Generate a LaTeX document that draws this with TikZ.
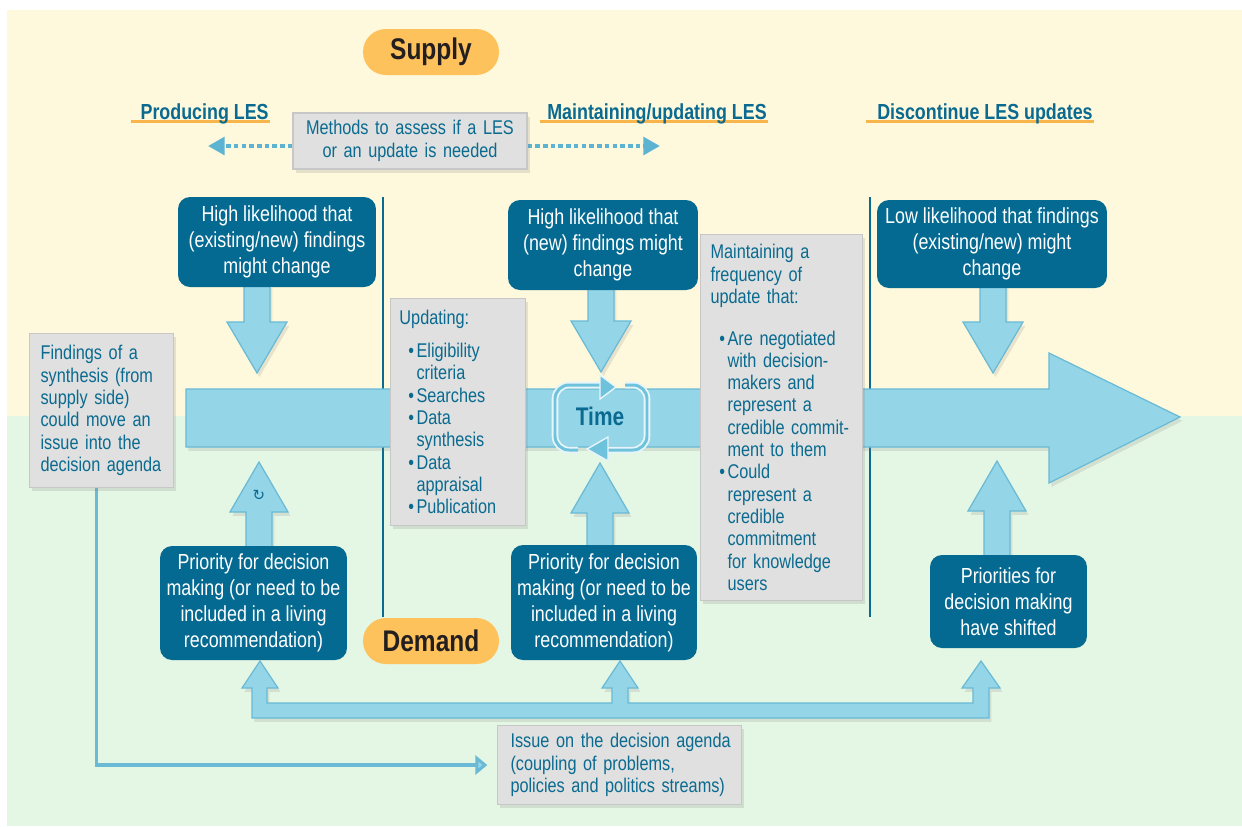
\documentclass[tikz,border=0pt]{standalone}
\usepackage{fontspec}
\setmainfont{Liberation Sans}[FakeStretch=0.82]
\newfontfamily\glyphfont{DejaVu Sans}
\usetikzlibrary{arrows.meta,shadows}

\definecolor{bgyellow}{HTML}{FEF8DC}
\definecolor{bggreen}{HTML}{E4F6E4}
\definecolor{inkblue}{HTML}{0A6A90}
\definecolor{boxblue}{HTML}{046A91}
\definecolor{arrowfill}{HTML}{94D5E8}
\definecolor{arrowedge}{HTML}{6ABAD6}
\definecolor{dotblue}{HTML}{5DB4D2}
\definecolor{greyfill}{HTML}{DFE0DF}
\definecolor{greyedge}{HTML}{C6C7C6}
\definecolor{pillorange}{HTML}{FDC25C}
\definecolor{lineorange}{HTML}{F8B54C}
\definecolor{labelink}{HTML}{231F20}
\definecolor{ringfill}{HTML}{6FC2DC}
\definecolor{ringedge}{HTML}{E6F5FA}

\pgfdeclarelayer{backdrop}
\pgfdeclarelayer{links}
\pgfsetlayers{backdrop,links,main}

% left margin inside a grey box (every line is its own paragraph), bullets and hanging indent
\newcommand\lm[1]{\leftskip=#1\relax}
\newcommand\bul{\makebox[9.7pt][r]{\textbullet\hspace{1.4pt}}}
\newcommand\ind{\hspace*{9.7pt}}

% fat block arrows: x position, start, tip
\newcommand\fatdown[3]{%
  \draw[blockarrow] ({#1-13},{#2}) -- ({#1+13},{#2}) -- ({#1+13},{#3-51})
    -- ({#1+30},{#3-51}) -- ({#1},{#3}) -- ({#1-30},{#3-51})
    -- ({#1-13},{#3-51}) -- cycle;}
\newcommand\fatup[3]{%
  \draw[blockarrow] ({#1-13},{#2}) -- ({#1-13},{#3+50}) -- ({#1-29},{#3+50})
    -- ({#1},{#3}) -- ({#1+29},{#3+50}) -- ({#1+13},{#3+50})
    -- ({#1+13},{#2}) -- cycle;}

\tikzset{
  darkbox/.style={rounded corners=6.8pt, fill=boxblue, text=white, align=center,
    font=\fontsize{12.4}{14.8}\selectfont, inner sep=0pt},
  greybox/.style={fill=greyfill, draw=greyedge, line width=0.6pt, text=inkblue,
    align=left, font=\fontsize{11.3}{12.7}\selectfont, inner sep=0pt,
    drop shadow={shadow xshift=1.6pt, shadow yshift=-2pt, opacity=0.2}},
  pill/.style={fill=pillorange, rounded corners=13pt, minimum width=2.72cm,
    minimum height=0.92cm, text=labelink, inner sep=0pt,
    font=\bfseries\fontsize{17}{20}\selectfont},
  header/.style={text=inkblue, inner sep=0pt,
    font=\bfseries\fontsize{12.4}{14}\selectfont},
  uline/.style={lineorange, line width=1.7pt},
  blockarrow/.style={fill=arrowfill, draw=arrowedge, line width=0.7pt,
    drop shadow={shadow xshift=1.4pt, shadow yshift=-2.2pt, opacity=0.18}},
  dotarrow/.style={dotblue, line width=2.6pt, dash pattern=on 2.6pt off 1.8pt,
    -{Triangle[length=9.5pt,width=10pt]}},
  divider/.style={inkblue, line width=1.2pt},
  feed/.style={draw=arrowedge, line width=1.8pt, shorten >=5.5pt,
    -{Triangle[length=6.8pt,width=10.8pt,fill=arrowfill]}},
  ringband/.style={draw=ringedge, line width=3.8pt, rounded corners=8pt},
  ringcore/.style={draw=ringfill, line width=1.7pt, rounded corners=8pt},
  ringhead/.style={fill=ringfill, draw=ringedge, line width=0.8pt},
}

\begin{document}
\begin{tikzpicture}[x=0.02cm, y=-0.02cm]
\useasboundingbox (0,0) rectangle (1242,826);

\begin{pgfonlayer}{backdrop}
  \fill[white] (0,0) rectangle (1242,826);
  \fill[bgyellow] (7,10) rectangle (1242,416);
  \fill[bggreen] (7,416) rectangle (1242,826);
\end{pgfonlayer}

% side labels
\node[pill] (sup) at (431,52) {Supply};
\node[pill] (dem) at (431,641) {Demand};

% phase headings
\node[header, anchor=base east] (hp) at (269,119) {Producing LES};
\node[header, anchor=base east] (hm) at (767,119) {Maintaining/updating LES};
\node[header, anchor=base east] (hd) at (1093,119) {Discontinue LES updates};

% assessment methods
\node[greybox, align=center, text width=4.68cm, minimum height=1.12cm,
  font=\fontsize{11.3}{13.1}\selectfont] (mb) at (410,141)
  {Methods to assess if a LES\\or an update is needed};
\coordinate (lt) at (208,146);
\coordinate (rt) at (660,146);

% supply side boxes
\node[darkbox, minimum width=3.96cm, minimum height=1.8cm] (d1) at (277,242)
  {High likelihood that\\(existing/new) findings\\might change};
\node[darkbox, minimum width=3.8cm, minimum height=1.8cm] (d2) at (603,245)
  {High likelihood that\\(new) findings might\\change};
\node[darkbox, minimum width=4.6cm, minimum height=1.76cm] (d3) at (992,244)
  {Low likelihood that findings\\(existing/new) might\\change};

% demand side boxes
\node[darkbox, minimum width=3.74cm, minimum height=2.28cm] (d4) at (253.5,603)
  {Priority for decision\\making (or need to be\\included in a living\\recommendation)};
\node[darkbox, minimum width=3.72cm, minimum height=2.3cm] (d5) at (604,602.5)
  {Priority for decision\\making (or need to be\\included in a living\\recommendation)};
\node[darkbox, minimum width=3.14cm, minimum height=1.86cm] (d6) at (1008.5,601.5)
  {Priorities for\\decision making\\have shifted};

% notes
\node[greybox, anchor=north west, text width=2.88cm, minimum height=3.08cm] (fb)
  at (29,333)
  {\lm{6.3pt}Findings of a\\synthesis (from\\supply side)\\could move an\\issue into the\\decision agenda\par};
\node[greybox, anchor=north west, text width=2.7cm, minimum height=4.54cm] (ub)
  at (390,298)
  {\lm{5.1pt}Updating:\\[6.1pt]
   \bul Eligibility\\ \ind criteria\\
   \bul Searches\\
   \bul Data\\ \ind synthesis\\
   \bul Data\\ \ind appraisal\\
   \bul Publication\par};
\node[greybox, anchor=north west, text width=3.24cm, minimum height=7.32cm] (fq)
  at (700,234)
  {\lm{5.7pt}Maintaining a\\frequency of\\update that:\\[11pt]
   \bul Are negotiated\\ \ind with decision-\\ \ind makers and\\ \ind represent a\\
   \ind credible commit-\\ \ind ment to them\\
   \bul Could\\ \ind represent a\\ \ind credible\\ \ind commitment\\
   \ind for knowledge\\ \ind users\par};
\node[greybox, anchor=north west, text width=4.88cm, minimum height=1.58cm,
  font=\fontsize{11.3}{12.8}\selectfont] (ib) at (497,725)
  {\lm{7.4pt}Issue on the decision agenda\\(coupling of problems,\\policies and politics streams)\par};

% time at the centre of the timeline
\node[text=inkblue, font=\bfseries\fontsize{14.5}{16}\selectfont, inner sep=0pt]
  (tm) at (600,416) {Time};
\draw[ringband] (578,450) -- (555,450) -- (555,385) -- (603,385);
\draw[ringcore] (578,450) -- (555,450) -- (555,385) -- (603,385);
\draw[ringband] (625,385) -- (647,385) -- (647,450) -- (607,450);
\draw[ringcore] (625,385) -- (647,385) -- (647,450) -- (607,450);
\filldraw[ringhead] (600,375) -- (616,387) -- (600,399) -- cycle;
\filldraw[ringhead] (608,437) -- (587,449) -- (608,461) -- cycle;

\node[text=inkblue, font=\glyphfont\fontsize{8.5}{9}\selectfont, inner sep=0pt]
  (rot) at (259,495) {↻};

\begin{pgfonlayer}{links}
  \draw[uline] ([xshift=-5.5pt,yshift=-1.6pt]hp.base west) -- ([xshift=0.6pt,yshift=-1.6pt]hp.base east);
  \draw[uline] ([xshift=-4pt,yshift=-1.6pt]hm.base west) -- ([xshift=0.6pt,yshift=-1.6pt]hm.base east);
  \draw[uline] ([xshift=-6pt,yshift=-1.6pt]hd.base west) -- ([xshift=0.6pt,yshift=-1.6pt]hd.base east);

  \draw[dotarrow] (mb.west |- lt) -- (lt);
  \draw[dotarrow] (mb.east |- rt) -- (rt);

  \draw[divider] (383,197) -- (383,617);
  \draw[divider] (870,197) -- (870,617);

  % timeline
  \draw[blockarrow] (186,389) -- (1049,389) -- (1049,353) -- (1180,417)
    -- (1049,483) -- (1049,447) -- (186,447) -- cycle;

  \fatdown{257}{284}{373}
  \fatdown{601}{286}{372}
  \fatdown{993}{284}{373}
  \fatup{259}{550}{462}
  \fatup{600}{549}{463}
  \fatup{997}{559}{461}

  % agenda feeding all three demand boxes
  \draw[blockarrow] (252,718) -- (252,688) -- (242,688) -- (260,661) -- (278,688)
    -- (267,688) -- (267,703) -- (612,703) -- (612,688) -- (602,688) -- (620,661)
    -- (638,688) -- (628,688) -- (628,703) -- (973,703) -- (973,688) -- (962,688)
    -- (981,661) -- (1000,688) -- (989,688) -- (989,718) -- cycle;

  \draw[feed] ([xshift=-2.8pt]fb.south) |- (ib.west);
\end{pgfonlayer}
\end{tikzpicture}
\end{document}
